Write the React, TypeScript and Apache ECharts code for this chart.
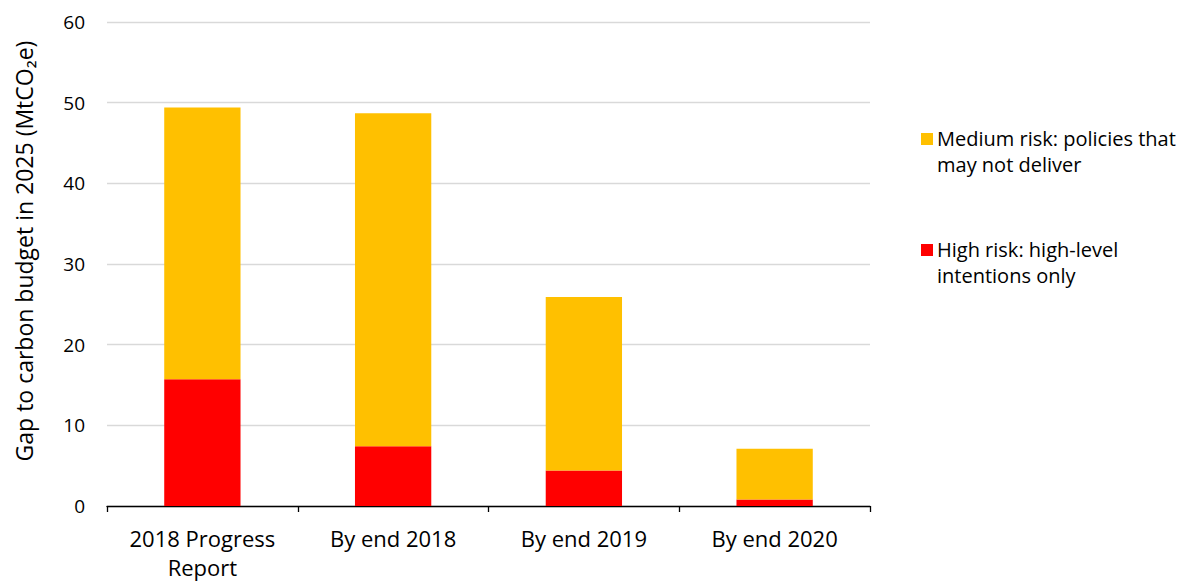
import React, { useEffect, useRef } from "react";
import * as echarts from "echarts";

const categories = ["2018 Progress\nReport", "By end 2018", "By end 2019", "By end 2020"];
const highRisk = [15.7, 7.4, 4.4, 0.8];
const mediumRisk = [33.7, 41.3, 21.5, 6.3];
const seriesNames = ["High risk: high-level\nintentions only", "Medium risk: policies that\nmay not deliver"];
const seriesColors = ["#FF0000", "#FFC000"];
const yTicks = { min: 0, max: 60, interval: 10 };
const yAxisTitle = "Gap to carbon budget in 2025 (MtCO\u2082e)";

const FONT = "'Open Sans', 'Noto Sans', sans-serif";

export default function App() {
  const ref = useRef<HTMLDivElement>(null);

  useEffect(() => {
    if (!ref.current) return;
    const chart = echarts.init(ref.current, undefined, { renderer: "svg" });

    // legend drawn as graphic so the swatch sits beside the first text line
    const legendItems = [
      { name: seriesNames[1], color: seriesColors[1], top: 125 },
      { name: seriesNames[0], color: seriesColors[0], top: 236 },
    ];
    const legendGraphic: any[] = legendItems.flatMap((it) => [
      {
        type: "rect",
        left: 921,
        top: it.top + 8,
        shape: { width: 12, height: 12 },
        style: { fill: it.color },
      },
      {
        type: "text",
        left: 937,
        top: it.top,
        style: {
          text: it.name,
          fill: "#000",
          font: `20px ${FONT}`,
          lineHeight: 26,
        },
      },
    ]);

    // rotated y-axis title
    legendGraphic.push({
      type: "text",
      x: 24,
      y: 251,
      rotation: Math.PI / 2,
      style: {
        text: yAxisTitle,
        fill: "#000",
        font: `23px ${FONT}`,
        align: "center",
        verticalAlign: "middle",
      },
    });

    chart.setOption({
      animation: false,
      textStyle: { fontFamily: FONT },
      grid: { left: 107, right: 320, top: 22, bottom: 77, containLabel: false },
      xAxis: {
        type: "category",
        data: categories,
        axisLine: { lineStyle: { color: "#000", width: 1.3 } },
        axisTick: { show: true, length: 6, lineStyle: { color: "#000", width: 1.3 } },
        axisLabel: { color: "#000", fontSize: 22, margin: 17, lineHeight: 29, fontFamily: FONT },
      },
      yAxis: {
        type: "value",
        min: yTicks.min,
        max: yTicks.max,
        interval: yTicks.interval,
        axisLine: { show: false },
        axisTick: { show: false },
        axisLabel: { color: "#000", fontSize: 19, margin: 22, fontFamily: FONT },
        splitLine: { lineStyle: { color: "#D9D9D9", width: 1.3 } },
      },
      series: [
        {
          name: seriesNames[0],
          type: "bar",
          stack: "gap",
          data: highRisk,
          barWidth: "40%",
          itemStyle: { color: seriesColors[0] },
        },
        {
          name: seriesNames[1],
          type: "bar",
          stack: "gap",
          data: mediumRisk,
          barWidth: "40%",
          itemStyle: { color: seriesColors[1] },
        },
      ],
      graphic: legendGraphic,
    });

    return () => chart.dispose();
  }, []);

  return (
    <div
      ref={ref}
      style={{ position: "absolute", left: 0, top: 0, width: 1190, height: 583 }}
    />
  );
}
